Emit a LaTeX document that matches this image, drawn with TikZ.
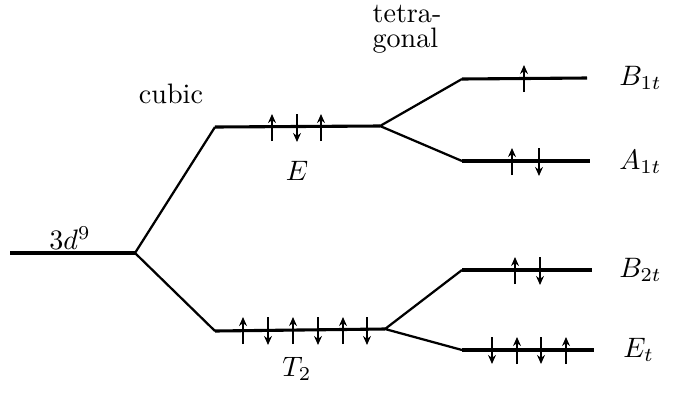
\documentclass[tikz,border=0pt]{standalone}
\usepackage{amsmath}
\usetikzlibrary{arrows.meta}
\tikzset{
  level/.style={line width=1.1pt},
  branch/.style={line width=0.8pt},
  spin/.style={-{Stealth[length=3.2pt,width=2.8pt]},line width=0.75pt},
  lbl/.style={inner sep=1pt}
}
\begin{document}
\begin{tikzpicture}[x=0.0125cm,y=-0.0125cm]
\useasboundingbox (0,0) rectangle (676,392);
%% level end points
\coordinate (d9l) at (10,253);   \coordinate (d9r) at (135,253);
\coordinate (El)  at (215,127);  \coordinate (Er)  at (380,126);
\coordinate (Tl)  at (215,331);  \coordinate (Tr)  at (385,329);
\coordinate (B1l) at (462,79);   \coordinate (B1r) at (587,78);
\coordinate (A1l) at (462,161);  \coordinate (A1r) at (590,161);
\coordinate (B2l) at (462,270);  \coordinate (B2r) at (592,270);
\coordinate (Etl) at (462,350);  \coordinate (Etr) at (594,350);
%% levels
\draw[level] (d9l)--(d9r);
\draw[level] (El)--(Er);
\draw[level] (Tl)--(Tr);
\draw[level] (B1l)--(B1r);
\draw[level] (A1l)--(A1r);
\draw[level] (B2l)--(B2r);
\draw[level] (Etl)--(Etr);
%% splittings
\draw[branch] (El)--(d9r)--(Tl);
\draw[branch] (B1l)--(Er)--(A1l);
\draw[branch] (B2l)--(Tr)--(Etl);
%% spins, E
\foreach \x in {272,321} \draw[spin] (\x,141)--(\x,114);
\draw[spin] (297,114)--(297,142);
%% spins, T_2
\foreach \x in {243,293,343} \draw[spin] (\x,344)--(\x,317);
\foreach \x in {268,318,367} \draw[spin] (\x,317)--(\x,345);
%% spins, tetragonal
\draw[spin] (524,92)--(524,65);
\draw[spin] (512,175)--(512,148);
\draw[spin] (539,148)--(539,176);
\draw[spin] (515,284)--(515,257);
\draw[spin] (540,257)--(540,285);
\foreach \x in {492,541} \draw[spin] (\x,337)--(\x,364);
\foreach \x in {517,566} \draw[spin] (\x,364)--(\x,337);
%% labels
\node[lbl] (t3d) at (70,238) {$3d^9$};
\node[lbl] (tcub) at (171,94) {cubic};
\node[lbl,align=left] (ttet) at (407,29) {tetra-\\[-3pt]gonal};
\node[lbl] (tE) at (297,171) {$E$};
\node[lbl] (tT) at (297,369) {$T_2$};
\node[lbl,anchor=west] (tB1) at (616,78) {$B_{1t}$};
\node[lbl,anchor=west] (tA1) at (616,162) {$A_{1t}$};
\node[lbl,anchor=west] (tB2) at (616,270) {$B_{2t}$};
\node[lbl,anchor=west] (tEt) at (620,350) {$E_t$};
\end{tikzpicture}
\end{document}
